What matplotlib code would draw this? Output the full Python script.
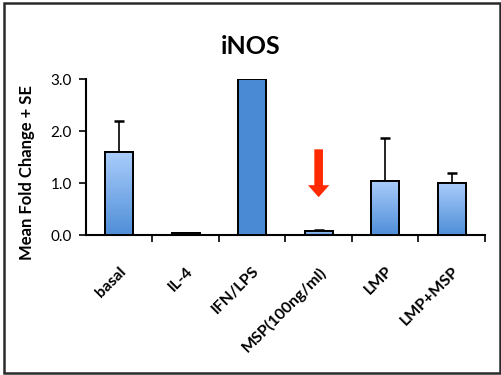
import matplotlib.pyplot as plt
import matplotlib.colors as mcolors
import numpy as np
from matplotlib.patches import FancyArrow, Rectangle

# fold change of iNOS per treatment, with standard error
treatments = ['basal', 'IL-4', 'IFN/LPS', 'MSP(100ng/ml)', 'LMP', 'LMP+MSP']
fold_change = [1.59, 0.04, 3.0, 0.07, 1.05, 1.01]
std_err = [0.60, 0.0, 0.0, 0.03, 0.81, 0.19]
gradient_fill = [True, True, False, True, True, True]
arrow_target = 'MSP(100ng/ml)'
arrow_span = (1.65, 0.73)

plt.rcParams['font.family'] = ['Lato', 'DejaVu Sans']

fig = plt.figure(figsize=(5.02, 3.75), dpi=100)
fig.patches.append(Rectangle((0.008, 0.005), 0.988, 0.988, transform=fig.transFigure,
                             fill=False, edgecolor='#2a2a2a', linewidth=1.8))

ax = fig.add_axes([0.171, 0.373, 0.795, 0.416])
x = np.arange(len(treatments))

bars = ax.bar(x, fold_change, width=0.42, color='#4a8ad4', edgecolor='black',
              linewidth=1.4, zorder=3)
ax.errorbar(x, fold_change, yerr=[np.zeros(len(x)), std_err], fmt='none',
            ecolor='black', elinewidth=1.2, capsize=3.5, capthick=1.8, zorder=2)

# vertical light-to-dark blue gradient inside the bars
cmap = mcolors.LinearSegmentedColormap.from_list('bar', ['#4f8ed8', '#aacdfb'])
grad = np.linspace(0, 1, 256).reshape(-1, 1)
for bar, use_grad in zip(bars, gradient_fill):
    if not use_grad:
        continue
    bx, by = bar.get_x(), bar.get_y()
    bw, bh = bar.get_width(), bar.get_height()
    im = ax.imshow(grad, cmap=cmap, origin='lower', aspect='auto',
                   extent=[bx, bx + bw, by, by + bh], zorder=3.5)
    im.set_clip_path(bar)
    ax.add_patch(Rectangle((bx, by), bw, bh, fill=False, edgecolor='black',
                           linewidth=1.4, zorder=4))

# red arrow pointing at the MSP bar
ai = treatments.index(arrow_target)
ax.add_patch(FancyArrow(ai, arrow_span[0], 0, arrow_span[1] - arrow_span[0],
                        width=0.13, head_width=0.32, head_length=0.23,
                        length_includes_head=True, color='#ff2a00',
                        linewidth=0, zorder=5))

ax.set_xlim(-0.5, len(treatments) - 0.5)
ax.set_ylim(0, 3)
ax.set_yticks([0, 1, 2, 3])
ax.set_yticklabels(['0.0', '1.0', '2.0', '3.0'], fontsize=11)
ax.set_xticks(x)
ax.set_xticklabels(treatments, rotation=45, ha='right', rotation_mode='anchor',
                   fontsize=11.5, fontweight='bold')
ax.set_xticks(np.arange(len(treatments)) + 0.5, minor=True)
ax.tick_params(axis='x', which='major', length=0, pad=21)
ax.tick_params(axis='x', which='minor', length=5, width=1.2, direction='out')
ax.tick_params(axis='y', length=5, width=1.2, direction='out', pad=5)

for side in ['top', 'right']:
    ax.spines[side].set_visible(False)
for side in ['left', 'bottom']:
    ax.spines[side].set_linewidth(1.5)

ax.set_ylabel('Mean Fold Change + SE', fontsize=12, fontweight='bold')
ax.yaxis.set_label_coords(-0.128, 0.40)
fig.text(0.5, 0.875, 'iNOS', ha='center', va='center', fontsize=18, fontweight='bold')

fig.savefig('out.png', dpi=100)
